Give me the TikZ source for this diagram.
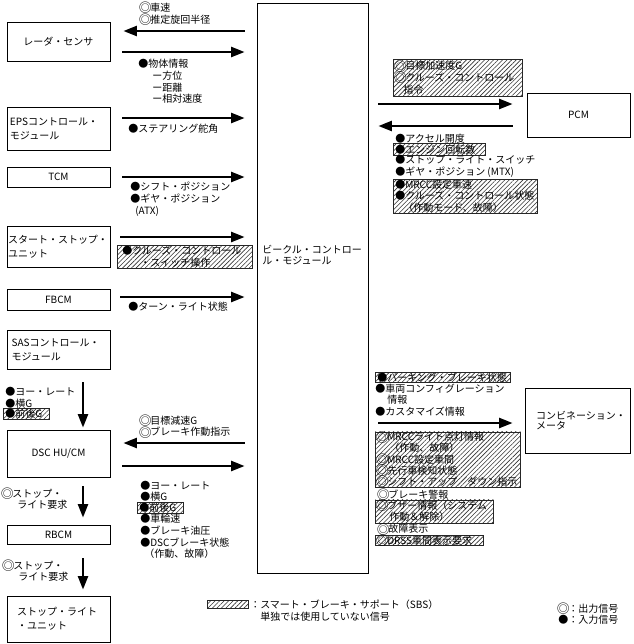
\documentclass[tikz,border=0pt]{standalone}
\usepackage{fontspec}
\setmainfont{Noto Sans CJK JP}
\newcommand{\osig}{\makebox[7.5pt][c]{\smash{\fontsize{9.6}{8.75}\selectfont\raisebox{-1pt}{◎}}}}
\usetikzlibrary{arrows.meta,patterns.meta,calc}
\tikzstyle{ecu}=[rectangle,draw=black,line width=0.7pt,inner sep=0pt,minimum width=77.25pt]
\tikzstyle{sig}=[-{Triangle[length=10pt,width=7.5pt]},line width=1.6pt]
\tikzstyle{lbl}=[anchor=north west,align=left,inner sep=0pt]
\tikzstyle{sbs}=[anchor=north west,align=left,inner xsep=1.5pt,inner ysep=0pt,draw=black!85,line width=0.4pt,pattern={Lines[angle=45,distance=2.4pt,line width=0.45pt]},pattern color=black!80]
\begin{document}
\begin{tikzpicture}[x=0.75pt,y=-0.75pt,font=\fontsize{7.5}{8.75}\selectfont]
\useasboundingbox (0,0) rectangle (634,644);
\node[ecu,minimum height=29.25pt] (radar) at (58.5,41.5) {レーダ・センサ};
\node[ecu,minimum height=32.25pt,align=left,text width=72.75pt,inner xsep=2.25pt] (eps) at (58.5,128.5) {EPSコントロール・\\[1.5pt]モジュール};
\node[ecu,minimum height=15pt] (tcm) at (58.5,177) {TCM};
\node[ecu,minimum height=30.75pt,align=left,text width=75.75pt,inner xsep=0.75pt] (ssu) at (58.5,246.5) {スタート・ストップ・\\[1.5pt]ユニット};
\node[ecu,minimum height=15.75pt] (fbcm) at (58.5,299.5) {FBCM};
\node[ecu,minimum height=29.25pt,align=left,text width=70.25pt,inner xsep=3.5pt] (sas) at (58.5,349.5) {SASコントロール・\\[1.5pt]モジュール};
\node[ecu,minimum height=35.25pt] (dsc) at (58.5,453.5) {DSC HU/CM};
\node[ecu,minimum height=14.25pt] (rbcm) at (58.5,534.5) {RBCM};
\node[ecu,minimum height=34.5pt,align=left,text width=62.25pt,inner xsep=7.5pt] (slu) at (58.5,619) {ストップ・ライト\\[1.5pt]・ユニット};
\node[ecu,minimum width=83.25pt,minimum height=427.5pt] (vcm) at (312.5,288) {};
\node[lbl] (vcmtxt) at (262,244.5) {ビークル・コントロー\\ル・モジュール};
\node[ecu,minimum height=33pt] (pcm) at (578.5,115) {PCM};
\node[ecu,minimum width=78.75pt,minimum height=48.75pt,align=left,text width=62.25pt,inner xsep=8.25pt] (meter) at (577.5,420.5) {コンビネーション・\\[-1.2pt]メータ};
\draw[sig] ($(vcm.west|-radar)+(-12,-10.5)$) -- ($(radar.east)+(13,-10.5)$);
\draw[sig] ($(radar.east)+(12,10.5)$) -- ($(vcm.west|-radar)+(-12,10.5)$);
\draw[sig] ($(eps.east)+(12,-10.5)$) -- ($(vcm.west|-eps)+(-12,-10.5)$);
\draw[sig] ($(tcm.east)+(12,0)$) -- ($(vcm.west|-tcm)+(-12,0)$);
\draw[sig] ($(ssu.east)+(10,-9.5)$) -- ($(vcm.west|-ssu)+(-12,-9.5)$);
\draw[sig] ($(fbcm.east)+(10,-2.5)$) -- ($(vcm.west|-fbcm)+(-12,-2.5)$);
\draw[sig] ($(vcm.west|-dsc)+(-12,-10.5)$) -- ($(dsc.east)+(13,-10.5)$);
\draw[sig] ($(dsc.east)+(12,12.5)$) -- ($(vcm.west|-dsc)+(-12,12.5)$);
\draw[sig] ($(sas.south)+(24.5,13)$) -- ($(dsc.north)+(24.5,-2)$);
\draw[sig] ($(dsc.south)+(24.5,9)$) -- ($(rbcm.north)+(24.5,-7)$);
\draw[sig] ($(rbcm.south)+(24.5,14)$) -- ($(slu.north)+(24.5,-6)$);
\draw[sig] ($(vcm.east|-pcm)+(10,-11)$) -- ($(pcm.west)+(-14,-11)$);
\draw[sig] ($(pcm.west)+(-14,11)$) -- ($(vcm.east|-pcm)+(10,11)$);
\draw[sig] ($(vcm.east|-meter)+(10,2.5)$) -- ($(meter.west)+(-12,2.5)$);
\node[lbl] (radarout) at (140,3) {\osig 車速\\\osig 推定旋回半径};
\node[lbl] (radarin) at (138,59) {●物体情報\\\hspace*{10.5pt}ー方位\\\hspace*{10.5pt}ー距離\\\hspace*{10.5pt}ー相対速度};
\node[lbl] (epsin) at (128,123.5) {●ステアリング舵角};
\node[lbl] (tcmin) at (130,182) {●シフト・ポジション\\●ギヤ・ポジション\\\hspace*{3.75pt}(ATX)};
\node[sbs,text width=93.75pt,inner xsep=3.75pt,minimum height=17.25pt] (ssuin) at (117,245) {●クルーズ・コントロール\\\hspace*{13.5pt}・スイッチ操作};
\node[lbl] (fbcmin) at (128,302) {●ターン・ライト状態};
\node[lbl] (sasout) at (5,387) {●ヨー・レート\\●横G};
\node[sbs,text width=31.5pt,minimum height=8.25pt] (sasg) at (3,408) {●前後G};
\node[lbl] (dscout) at (140,415.5) {\osig 目標減速G\\\osig ブレーキ作動指示};
\node[lbl] (dscin) at (140,480.5) {●ヨー・レート\\●横G};
\node[sbs,text width=31.5pt,minimum height=8.25pt] (dscg) at (137,502) {●前後G};
\node[lbl] (dscin2) at (140,514) {●車輪速\\●ブレーキ油圧\\●DSCブレーキ状態\\\hspace*{3pt}（作動、故障）};
\node[lbl] (rbcmreq) at (2,488.5) {\osig ストップ・\\\hspace*{11.25pt}ライト要求};
\node[lbl] (slureq) at (3,560.5) {\osig ストップ・\\\hspace*{11.25pt}ライト要求};
\node[sbs,text width=93.75pt,minimum height=27.75pt] (pcmout) at (393,59) {\osig 目標加速度G\\\osig クルーズ・コントロール\\\hspace*{6pt}指令};
\node[lbl] (pcmin) at (395,133.5) {●アクセル開度};
\node[sbs,text width=66pt,minimum height=9pt] (pcmeng) at (393,143) {●エンジン回転数};
\node[lbl] (pcmin2) at (395,155) {●ストップ・ライト・スイッチ\\●ギヤ・ポジション (MTX)};
\node[sbs,text width=105pt,minimum height=25.5pt] (pcmcc) at (393,179) {●MRCC設定車速\\●クルーズ・コントロール状態\\\hspace*{6pt}（作動モード、故障）};
\node[sbs,text width=98.25pt,minimum height=7.5pt] (mtrpkb) at (375,372) {●パーキング・ブレーキ状態};
\node[lbl] (mtrin) at (375,383.5) {●車両コンフィグレーション\\\hspace*{9pt}情報\\●カスタマイズ情報};
\node[sbs,text width=105.75pt,minimum height=41.25pt,font=\fontsize{7.5}{8.3}\selectfont] (mtrmrcc) at (375,431.5) {\osig MRCCライト点灯情報\\\hspace*{9pt}（作動、故障）\\\osig MRCC設定車間\\\osig 先行車検知状態\\\osig シフト・アップ／ダウン指示};
\node[lbl] (mtrbrk) at (378,489.5) {\osig ブレーキ警報};
\node[sbs,text width=85.5pt,minimum height=17.25pt] (mtrbuz) at (375,499.5) {\osig ブザー情報（システム\\\hspace*{9pt}作動＆解除）};
\node[lbl] (mtrflt) at (378,524) {\osig 故障表示};
\node[sbs,text width=78pt,minimum height=7.5pt] (mtrdrss) at (375,535) {\osig DRSS車間表示要求};
\node[sbs,minimum width=30.75pt,minimum height=6pt,inner sep=0pt] (keysbs) at (207,600) {};
\node[lbl] (keytxt) at (250,599.5) {：スマート・ブレーキ・サポート（SBS）\\\hspace*{7.5pt}単独では使用していない信号};
\node[lbl] (keyio) at (558,604) {\osig：出力信号\\[-0.5pt]●：入力信号};
\end{tikzpicture}
\end{document}
